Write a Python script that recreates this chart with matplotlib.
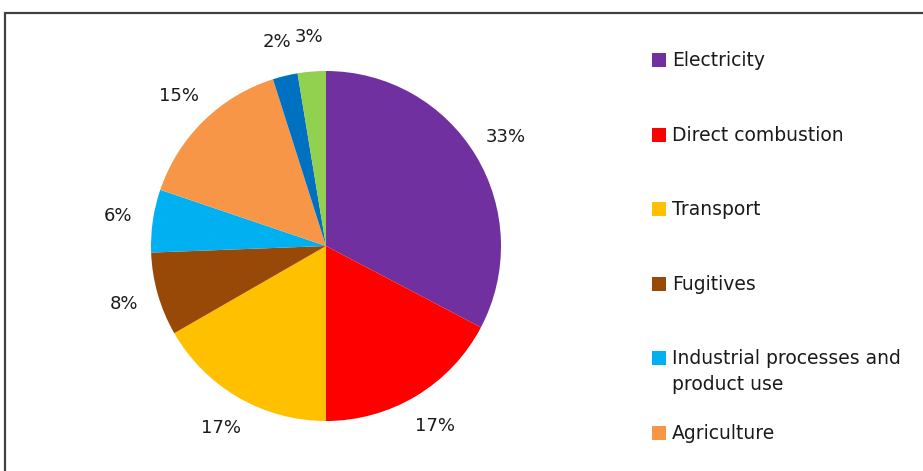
import matplotlib
matplotlib.use("Agg")
import matplotlib.pyplot as plt
from matplotlib.patches import Rectangle

categories = ["Electricity", "Direct combustion", "Transport", "Fugitives",
              "Industrial processes and\nproduct use", "Agriculture", "Waste", "LULUCF"]
shares = [32.7, 17.3, 16.7, 7.7, 5.8, 14.9, 2.3, 2.6]
colors = ["#7030A0", "#FF0000", "#FFC000", "#984807", "#00B0F0", "#F79646", "#0070C0", "#92D050"]

W, H = 923, 471
fig = plt.figure(figsize=(W / 100, H / 100), dpi=100)
fig.patch.set_facecolor("white")

# chart frame (cropped on the right and bottom)
fig.patches.append(Rectangle((5 / W, -0.1), 1.2, (H - 13) / H + 0.1,
                             transform=fig.transFigure, fill=False,
                             edgecolor="#404040", linewidth=1.6, clip_on=False))

cx, cy, r = 326, 246, 175
ax = fig.add_axes([(cx - r) / W, (H - cy - r) / H, 2 * r / W, 2 * r / H])

wedges, texts, autotexts = ax.pie(
    shares, colors=colors, startangle=90, counterclock=False, radius=1,
    autopct="%.0f%%", pctdistance=1.2,
    wedgeprops=dict(linewidth=0),
    textprops=dict(fontsize=13, color="#1a1a1a"))
ax.set_xlim(-1, 1)
ax.set_ylim(-1, 1)
ax.axis("off")

# legend drawn manually to match spacing (entries beyond the crop are not shown)
lx, ly0, dy = 652, 60, 74.6
for i, (lab, col) in enumerate(zip(categories, colors)):
    y = ly0 + i * dy
    if y > H - 20:
        continue
    fig.patches.append(Rectangle((lx / W, (H - y - 7) / H), 14 / W, 14 / H,
                                 transform=fig.transFigure, facecolor=col,
                                 edgecolor="none"))
    fig.text((lx + 20) / W, (H - y + 9) / H, lab, fontsize=13.5, color="#1a1a1a",
             va="top", ha="left", linespacing=1.45)

fig.savefig("out.png", dpi=100, facecolor="white")
